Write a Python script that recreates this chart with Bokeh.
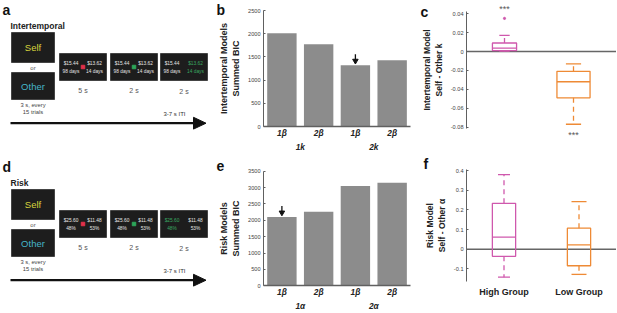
from bokeh.plotting import figure
from bokeh.layouts import row, column
from bokeh.models import Range1d, FixedTicker, LinearAxis, ColumnDataSource
from bokeh.embed import file_html
from bokeh.resources import INLINE
from bokeh.core.properties import value

FONT = "Liberation Sans"

# ---------------- data ----------------
# panel b : intertemporal models, summed BIC
b_models = ["1β", "2β", "1β", "2β"]
b_groups = ["1k", "2k"]
b_bic = [2010, 1770, 1320, 1430]
b_best = 2
b_yticks = [0, 500, 1000, 1500, 2000, 2500]
b_ylabels = ["0", "500", "1000", "1500", "2000", "2500"]

# panel e : risk models, summed BIC
e_models = ["1β", "2β", "1β", "2β"]
e_groups = ["1α", "2α"]
e_bic = [2100, 2260, 3050, 3150]
e_best = 0
e_yticks = [0, 500, 1000, 1500, 2000, 2500, 3000, 3500]
e_ylabels = ["0", "500", "1000", "1500", "2000", "2500", "3000", "3500"]

# panel c : Self - Other k (box statistics)
c_lo = [0.0003, -0.077]
c_q1 = [0.001, -0.049]
c_med = [0.0035, -0.032]
c_q3 = [0.009, -0.021]
c_hi = [0.017, -0.013]
c_out_group = [0]
c_out_val = [0.035]
c_star = ["***", "***"]
c_star_val = [0.0455, -0.088]
c_yticks = [-0.08, -0.06, -0.04, -0.02, 0, 0.02, 0.04]
c_ylabels = ["-0.08", "-0.06", "-0.04", "-0.02", "0", "0.02", "0.04"]

# panel f : Self - Other alpha (box statistics)
f_groups = ["High Group", "Low Group"]
f_lo = [-0.142, -0.128]
f_q1 = [-0.036, -0.084]
f_med = [0.061, 0.022]
f_q3 = [0.233, 0.107]
f_hi = [0.379, 0.242]
f_yticks = [-0.1, 0, 0.1, 0.2, 0.3, 0.4]
f_ylabels = ["-0.1", "0", "0.1", "0.2", "0.3", "0.4"]

box_colors = ["#cf58ad", "#ee8a35"]

# axis titles
b_ytitle = "Intertemporal Models\nSummed BIC"
e_ytitle = "Risk Models\nSummed BIC"
c_ytitle = "Intertemporal Model\nSelf - Other k"
f_ytitle = "Risk Model\nSelf - Other α"

# panels a / d : task schematic texts
a_title = "Intertemporal"
d_title = "Risk"
cue_words = ["Self", "Other"]
cue_colors = ["#d8d43c", "#45b5c8"]
a_left_opt = ["$15.44", "98 days"]
a_right_opt = ["$13.62", "14 days"]
d_left_opt = ["$25.60", "48%"]
d_right_opt = ["$11.48", "53%"]
stage_durations = ["5 s", "2 s", "2 s"]
cue_note = ["3 s, every", "15 trials"]
iti_note = "3-7 s ITI"

BAR = "#8c8c8c"
AX = "#606060"


def txt(p, x, y, t, size, color="#222", style="normal", align="center"):
    p.text(x=[x], y=[y], text=[t], text_font=value(FONT), text_font_size=size,
           text_font_style=style, text_color=color, text_align=align,
           text_baseline="middle")


def draw_task(p, dy, letter, title, lopt, ropt, chosen):
    txt(p, 2, 9 + dy, letter, "14px", "#111", "bold", "left")
    txt(p, 10, 25 + dy, title, "8.5px", "#222", "bold", "left")
    p.quad(left=[11, 11], right=[54, 54], top=[32 + dy, 72 + dy],
           bottom=[62 + dy, 99 + dy], fill_color="#1d1d1d", line_color="#444")
    txt(p, 32.5, 47 + dy, cue_words[0], "9.5px", cue_colors[0])
    txt(p, 32.5, 85.5 + dy, cue_words[1], "9.5px", cue_colors[1])
    txt(p, 32.5, 67 + dy, "or", "6px", "#555")
    txt(p, 32.5, 104 + dy, cue_note[0], "5.8px", "#444")
    txt(p, 32.5, 111.5 + dy, cue_note[1], "5.8px", "#444")
    lefts = [59, 110, 160]
    p.quad(left=lefts, right=[l + 47 for l in lefts], top=[53 + dy] * 3,
           bottom=[80 + dy] * 3, fill_color="#1d1d1d", line_color="#444")
    green = "#3aa861"
    for i, l in enumerate(lefts):
        lc = green if (i == 2 and chosen == "left") else "#e6e6e6"
        rc = green if (i == 2 and chosen == "right") else "#e6e6e6"
        txt(p, l + 11.5, 63 + dy, lopt[0], "4.8px", lc)
        txt(p, l + 11.5, 70.5 + dy, lopt[1], "4.8px", lc)
        txt(p, l + 35, 63 + dy, ropt[0], "4.8px", rc)
        txt(p, l + 35, 70.5 + dy, ropt[1], "4.8px", rc)
        txt(p, l + 23.5, 89.5 + dy + (1.5 if i == 2 else 0), stage_durations[i], "7px", "#555")
    p.scatter(x=[lefts[0] + 23.5, lefts[1] + 23.5], y=[66.5 + dy] * 2, marker="square",
              size=3.5, color=["#e0304a", "#2ca55a"])
    txt(p, 174, 113 + dy, iti_note, "6px", "#333")
    p.segment(x0=[10], y0=[122.7 + dy], x1=[195], y1=[122.7 + dy], line_width=2.2,
              line_color="#111")
    p.patch(x=[193, 205.5, 193], y=[116.8 + dy, 122.7 + dy, 128.6 + dy], color="#111")


# ---------------- panel a/d ----------------
W1, H = 212, 312
pad = figure(width=W1, height=H, x_range=Range1d(0, W1), y_range=Range1d(H, 0),
             x_axis_location=None, y_axis_location=None, output_backend="svg",
             toolbar_location=None, min_border=0, title=None)
pad.outline_line_color = None
pad.grid.visible = False
draw_task(pad, 0, "a", a_title, a_left_opt, a_right_opt, "right")
draw_task(pad, 157, "d", d_title, d_left_opt, d_right_opt, "left")


class Panel:
    """A figure whose frame fills the whole canvas; pixel <-> data helpers."""

    def __init__(self, left, top, w, h, xpx, xval, xs, ypx, yval, ys, xaxis=True):
        self.left, self.top, self.xpx, self.xval, self.xs = left, top, xpx, xval, xs
        self.ypx, self.yval, self.ys = ypx, yval, ys
        self.p = figure(width=w, height=h,
                        x_range=Range1d(self.X(left), self.X(left + w)),
                        y_range=Range1d(self.Y(top + h), self.Y(top)),
                        x_axis_location="below" if xaxis else None,
                        output_backend="svg", toolbar_location=None, title=None,
                        min_border=0)
        self.p.outline_line_color = None
        self.p.grid.visible = False

    def X(self, px):
        return self.xval + (px - self.xpx) / self.xs

    def Y(self, py):
        return self.yval - (py - self.ypx) / self.ys

    def letter(self, t, px, py):
        txt(self.p, self.X(px), self.Y(py), t, "14px", "#111", "bold", "left")

    def yaxis(self, ticks, labels, title, tsize, axis_px, bounds):
        a = self.p.yaxis[0]
        a.fixed_location = self.X(axis_px)
        a.bounds = bounds
        a.ticker = FixedTicker(ticks=ticks)
        a.major_label_overrides = {t: s for t, s in zip(ticks, labels)}
        a.major_label_text_font = FONT
        a.major_label_text_font_size = "5.6px"
        a.major_label_text_color = "#444"
        a.major_tick_in = 2
        a.major_tick_out = 0
        a.major_tick_line_color = AX
        a.minor_tick_line_color = None
        a.axis_line_color = AX
        a.major_label_standoff = 3
        a.axis_label = title
        a.axis_label_text_font = FONT
        a.axis_label_text_font_style = "bold"
        a.axis_label_text_font_size = tsize
        a.axis_label_text_color = "#222"
        a.axis_label_standoff = 4


def style_x(a, ticks, labels, size, fstyle, standoff):
    a.ticker = FixedTicker(ticks=ticks)
    a.major_label_overrides = {t: s for t, s in zip(ticks, labels)}
    a.major_label_text_font = FONT
    a.major_label_text_font_size = size
    a.major_label_text_font_style = fstyle
    a.major_label_text_color = "#222"
    a.major_tick_line_color = None
    a.minor_tick_line_color = None
    a.major_tick_in = 0
    a.major_tick_out = 0
    a.minor_tick_out = 0
    a.major_label_standoff = standoff


def bar_panel(top, h, y0px, ys, models, groups, vals, best, ticks, tlabels, ytitle, lt, lpy):
    P = Panel(212, top, 203, h, 281.4, 1, 36.75, y0px, 0, ys)
    p = P.p
    xs = list(range(1, len(vals) + 1))
    p.vbar(x=xs, top=vals, width=0.8, fill_color=BAR, line_color=None)
    u = 1 / ys
    p.segment(x0=[xs[best]], y0=[vals[best] + 11 * u], x1=[xs[best]], y1=[vals[best] + 5 * u],
              line_width=1.3, line_color="#111")
    p.scatter(x=[xs[best]], y=[vals[best] + 4.4 * u], marker="inverted_triangle", size=5.5,
              color="#111")
    P.yaxis(ticks, tlabels, ytitle, "9px", 263, (0, ticks[-1]))
    a = p.xaxis[0]
    a.fixed_location = 0
    a.bounds = (0.5, len(vals) + 0.5)
    a.axis_line_color = AX
    a.axis_line_width = 1.5
    style_x(a, xs, models, "8.3px", "bold italic", 1)
    g = LinearAxis(fixed_location=0, axis_line_color=None)
    style_x(g, [1.5, 3.5], groups, "8.3px", "bold italic", 15)
    p.add_layout(g, "below")
    P.letter(lt, 216, lpy)
    return p


pb = bar_panel(0, 150, 126, 0.0464, b_models, b_groups, b_bic, b_best, b_yticks,
               b_ylabels, b_ytitle, "b", 9)
pe = bar_panel(150, 162, 285.3, 114.6 / 3500, e_models, e_groups, e_bic, e_best, e_yticks,
               e_ylabels, e_ytitle, "e", 165.5)


def draw_boxes(P, lo, q1, med, q3, hi, widths, caps):
    p = P.p
    pos = [i + 1 for i in range(len(med))]
    src = ColumnDataSource(dict(
        x=pos, l=[x - w / 2 for x, w in zip(pos, widths)], r=[x + w / 2 for x, w in zip(pos, widths)],
        cl=[x - c / 2 for x, c in zip(pos, caps)], cr=[x + c / 2 for x, c in zip(pos, caps)],
        lo=lo, q1=q1, med=med, q3=q3, hi=hi, c=box_colors[:len(med)]))
    p.segment(x0="x", y0="q3", x1="x", y1="hi", line_color="c", line_width=1.3,
              line_dash="5 4", source=src)
    p.segment(x0="x", y0="q1", x1="x", y1="lo", line_color="c", line_width=1.3,
              line_dash="5 4", source=src)
    p.segment(x0="cl", y0="hi", x1="cr", y1="hi", line_color="c", line_width=1.3, source=src)
    p.segment(x0="cl", y0="lo", x1="cr", y1="lo", line_color="c", line_width=1.3, source=src)
    p.quad(left="l", right="r", top="q3", bottom="q1", fill_color=None, line_color="c",
           line_width=1.3, source=src)
    p.segment(x0="l", y0="med", x1="r", y1="med", line_color="c", line_width=1.3, source=src)


def zero_line(P):
    P.p.segment(x0=[P.X(466)], y0=[0], x1=[P.X(616)], y1=[0], line_color="#666",
                line_width=1.4)


# ---------------- panel c ----------------
Pc = Panel(415, 0, 201, 150, 504, 1, 69, 51, 0, 945, xaxis=False)
zero_line(Pc)
draw_boxes(Pc, c_lo, c_q1, c_med, c_q3, c_hi, [0.35, 0.48], [0.15, 0.22])
Pc.p.scatter(x=[g + 1 for g in c_out_group], y=c_out_val, marker="circle", size=2.2,
             color=box_colors[0])
Pc.p.text(x=[1, 2], y=c_star_val, text=c_star, text_font=value(FONT), text_font_size="9px",
          text_color="#555", text_align="center", text_baseline="middle")
Pc.yaxis(c_yticks, c_ylabels, c_ytitle, "8.5px", 466, (-0.081, 0.042))
Pc.letter("c", 420, 11.5)

# ---------------- panel f ----------------
Pf = Panel(415, 150, 201, 162, 503.5, 1, 75, 248.7, 0, 196.75)
zero_line(Pf)
draw_boxes(Pf, f_lo, f_q1, f_med, f_q3, f_hi, [0.31, 0.31], [0.16, 0.2])
Pf.yaxis(f_yticks, f_ylabels, f_ytitle, "8.5px", 466, (-0.165, 0.405))
xa = Pf.p.xaxis[0]
xa.fixed_location = Pf.Y(282)
xa.axis_line_color = None
style_x(xa, [1, 2], f_groups, "9px", "bold", 4)
Pf.letter("f", 423, 163)

layout = row(pad, column(pb, pe), column(Pc.p, Pf.p))

open("out.html", "w").write(file_html(layout, INLINE))
